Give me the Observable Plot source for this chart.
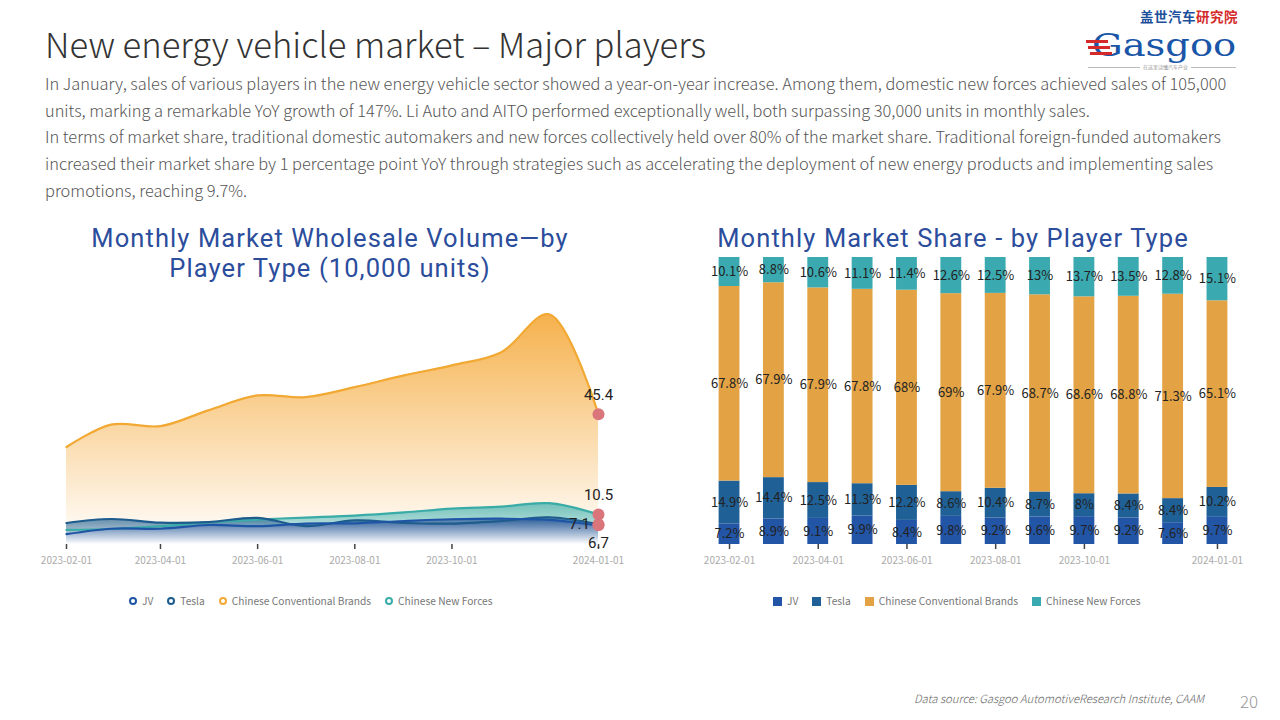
<!DOCTYPE html>
<html><head><meta charset="utf-8">
<script src="https://cdn.jsdelivr.net/npm/d3@7"></script>
<script src="https://cdn.jsdelivr.net/npm/@observablehq/plot@0.6"></script>
<style>
  html,body{margin:0;padding:0;background:#fff;}
  body{width:1280px;height:720px;position:relative;overflow:hidden;font-family:"Noto Sans CJK SC","Noto Sans",sans-serif;}
  .abs{position:absolute;}
  #title{left:45px;top:18px;font-size:34.6px;font-weight:300;color:#333;white-space:nowrap;}
  #para{left:45px;top:70px;font-size:16.4px;font-weight:300;color:#555;line-height:26.7px;white-space:nowrap;}
  .ctitle{color:#2b4d9c;font-family:Roboto,"Noto Sans",sans-serif;font-size:25.5px;text-align:center;line-height:30px;height:30px;white-space:nowrap;letter-spacing:1.1px;}
  .legend{display:flex;align-items:center;font-size:10.2px;color:#777;white-space:nowrap;line-height:14px;}
  .legend .it{display:flex;align-items:center;margin-right:14px;}
  .ring{width:4px;height:4px;border-radius:50%;border:2.3px solid;margin-right:5px;}
  .sq{width:9px;height:9px;margin-right:5px;}
  #src{left:914px;top:690px;font-size:11.3px;font-style:italic;color:#666;font-weight:300;white-space:nowrap;}
  #page{left:1240px;top:688px;font-size:17px;color:#999;font-weight:300;}
</style></head>
<body>
<div id="title" class="abs">New energy vehicle market – Major players</div>
<div id="para" class="abs">In January, sales of various players in the new energy vehicle sector showed a year-on-year increase. Among them, domestic new forces achieved sales of 105,000<br>units, marking a remarkable YoY growth of 147%. Li Auto and AITO performed exceptionally well, both surpassing 30,000 units in monthly sales.<br>In terms of market share, traditional domestic automakers and new forces collectively held over 80% of the market share. Traditional foreign-funded automakers<br>increased their market share by 1 percentage point YoY through strategies such as accelerating the deployment of new energy products and implementing sales<br>promotions, reaching 9.7%.</div>

<!-- logo -->
<div class="abs" style="left:1140px;top:7px;font-size:13.5px;line-height:19px;font-weight:700;letter-spacing:0.5px;"><span style="color:#1c4f9c">盖世汽车</span><span style="color:#d42a2a">研究院</span></div>
<div class="abs" style="left:1092px;top:27px;font-family:'DejaVu Serif',serif;font-size:31px;line-height:36px;color:#1a56a8;transform:scaleX(1.24);transform-origin:left top;">Gasgoo</div>
<div class="abs" style="left:1086px;top:40px;width:22px;height:3px;background:#d42a2a;"></div>
<div class="abs" style="left:1088px;top:46px;width:22px;height:3px;background:#d42a2a;"></div>
<div class="abs" style="left:1090px;top:52px;width:22px;height:3px;background:#d42a2a;"></div>
<div class="abs" style="left:1088px;top:67px;width:148px;height:1px;background:#bbb;"></div>
<div class="abs" style="left:1140px;top:64.1px;font-size:5px;line-height:6px;color:#999;background:#fff;padding:0 3px;">在这里读懂汽车产业</div>

<div class="abs ctitle" style="left:30px;width:600px;top:223px;">Monthly Market Wholesale Volume—by</div>
<div class="abs ctitle" style="left:30px;width:600px;top:253px;">Player Type (10,000 units)</div>
<div class="abs ctitle" style="left:653px;width:600px;top:223px;">Monthly Market Share - by Player Type</div>

<div id="left" class="abs" style="left:0;top:280px;"></div>
<div id="right" class="abs" style="left:680px;top:245px;"></div>

<div class="abs legend" style="left:129px;top:594px;">
  <div class="it"><div class="ring" style="border-color:#1f55a5"></div>JV</div>
  <div class="it"><div class="ring" style="border-color:#1d5c8c"></div>Tesla</div>
  <div class="it"><div class="ring" style="border-color:#f2a933"></div>Chinese Conventional Brands</div>
  <div class="it"><div class="ring" style="border-color:#3aaca8"></div>Chinese New Forces</div>
</div>
<div class="abs legend" style="left:773px;top:594px;">
  <div class="it"><div class="sq" style="background:#2255a5"></div>JV</div>
  <div class="it"><div class="sq" style="background:#1f6096"></div>Tesla</div>
  <div class="it"><div class="sq" style="background:#e3a344"></div>Chinese Conventional Brands</div>
  <div class="it"><div class="sq" style="background:#3aa9b0"></div>Chinese New Forces</div>
</div>

<div id="src" class="abs">Data source: Gasgoo AutomotiveResearch Institute, CAAM</div>
<div id="page" class="abs">20</div>

<script>
// ---------- data ----------
const months = ["2023-02-01","2023-03-01","2023-04-01","2023-05-01","2023-06-01","2023-07-01",
                "2023-08-01","2023-09-01","2023-10-01","2023-11-01","2023-12-01","2024-01-01"];
const tickMonths = ["2023-02-01","2023-04-01","2023-06-01","2023-08-01","2023-10-01","2024-01-01"];
const seriesNames = ["JV","Tesla","Chinese Conventional Brands","Chinese New Forces"];

// wholesale volume (10,000 units)
const volJV    = [3.6, 5.5, 5.5, 6.8, 6.4, 7.3, 7.4, 8.2, 8.8, 9.0, 8.6, 6.7];
const volTesla = [7.5, 8.9, 7.6, 7.8, 9.3, 6.4, 8.4, 7.5, 7.3, 8.2, 9.5, 7.1];
const volConv  = [34.0, 41.8, 41.3, 46.8, 52.0, 51.4, 54.9, 59.0, 62.5, 67.1, 80.3, 45.4];
const volNew   = [5.1, 5.4, 6.4, 7.7, 8.7, 9.4, 10.1, 11.2, 12.5, 13.2, 14.4, 10.5];

// market share (%)
const shareJV    = [7.2, 8.9, 9.1, 9.9, 8.4, 9.8, 9.2, 9.6, 9.7, 9.2, 7.6, 9.7];
const shareTesla = [14.9, 14.4, 12.5, 11.3, 12.2, 8.6, 10.4, 8.7, 8, 8.4, 8.4, 10.2];
const shareConv  = [67.8, 67.9, 67.9, 67.8, 68, 69, 67.9, 68.7, 68.6, 68.8, 71.3, 65.1];
const shareNew   = [10.1, 8.8, 10.6, 11.1, 11.4, 12.6, 12.5, 13, 13.7, 13.5, 12.8, 15.1];

const lineColors = ["#1f55a5", "#1d5c8c", "#f2a933", "#3aaca8"];
const barColors  = ["#2255a5", "#1f6096", "#e3a344", "#3aa9b0"];

// ---------- left chart: volume areas ----------
const volSets = [volJV, volTesla, volConv, volNew];
const volRows = [];
seriesNames.forEach((s, si) => months.forEach((m, i) =>
  volRows.push({series: s, date: new Date(m), value: volSets[si][i]})));
const bySeries = s => volRows.filter(d => d.series === s);
const lastRows = volRows.filter(d => +d.date === +new Date(months[months.length - 1]));
const curve = "catmull-rom";
const lblFont = {fontSize: 15, fill: "#222", fontFamily: "Roboto, sans-serif", text: d => String(d.value)};

const left = Plot.plot({
  width: 640, height: 300,
  marginLeft: 66, marginRight: 42, marginTop: 6, marginBottom: 36,
  style: {fontFamily: "'Noto Sans CJK SC','Noto Sans',sans-serif", background: "transparent"},
  x: {type: "utc", domain: [new Date(months[0]), new Date(months[months.length - 1])], label: null},
  y: {domain: [0, 90], axis: null},
  marks: [
    Plot.areaY(bySeries(seriesNames[2]), {x: "date", y: "value", fill: "url(#gConv)", curve}),
    Plot.lineY(bySeries(seriesNames[2]), {x: "date", y: "value", stroke: lineColors[2], strokeWidth: 2.2, curve}),
    Plot.areaY(bySeries(seriesNames[3]), {x: "date", y: "value", fill: "url(#gNew)", curve}),
    Plot.areaY(bySeries(seriesNames[1]), {x: "date", y: "value", fill: "url(#gTesla)", curve}),
    Plot.areaY(bySeries(seriesNames[0]), {x: "date", y: "value", fill: "url(#gJV)", curve}),
    Plot.lineY(bySeries(seriesNames[3]), {x: "date", y: "value", stroke: lineColors[3], strokeWidth: 2.2, curve}),
    Plot.lineY(bySeries(seriesNames[1]), {x: "date", y: "value", stroke: lineColors[1], strokeWidth: 2.2, curve}),
    Plot.lineY(bySeries(seriesNames[0]), {x: "date", y: "value", stroke: lineColors[0], strokeWidth: 2.2, curve}),
    Plot.axisX({ticks: tickMonths.map(d => new Date(d)), tickFormat: () => "", tickSize: 5, stroke: "#444", strokeWidth: 1.5, label: null}),
    Plot.axisX({ticks: tickMonths.map(d => new Date(d)), tickFormat: d3.utcFormat("%Y-%m-%d"), tickSize: 0, tickPadding: 12, fontSize: 10, fill: "#aaa", label: null}),
    Plot.dot(lastRows, {x: "date", y: "value", r: 6, fill: "#da767b"}),
    Plot.text(lastRows.filter(d => d.series === seriesNames[2] || d.series === seriesNames[3]), {x: "date", y: "value", dy: -19, ...lblFont}),
    Plot.text(lastRows.filter(d => d.series === seriesNames[1]), {x: "date", y: "value", dx: -19, dy: 0, ...lblFont}),
    Plot.text(lastRows.filter(d => d.series === seriesNames[0]), {x: "date", y: "value", dy: 18, ...lblFont})
  ]
});
// gradient definitions
const defs = d3.select(left).insert("defs", ":first-child");
const gStops = [
  ["gJV",    "#1f4f95", 0.7],
  ["gTesla", "#1d5c8c", 0.7],
  ["gConv",  "#f5ad43", 0.95],
  ["gNew",   "#3aaca8", 0.7]
];
gStops.forEach(([id, c, o]) => {
  const g = defs.append("linearGradient").attr("id", id).attr("x1", 0).attr("y1", 0).attr("x2", 0).attr("y2", 1);
  g.append("stop").attr("offset", "0%").attr("stop-color", c).attr("stop-opacity", o);
  g.append("stop").attr("offset", "100%").attr("stop-color", "#ffffff").attr("stop-opacity", 0.95);
});
document.getElementById("left").append(left);

// ---------- right chart: share bars ----------
const shareSets = [shareJV, shareTesla, shareConv, shareNew];
const shareRows = [];
months.forEach((m, i) => seriesNames.forEach((s, si) =>
  shareRows.push({month: m, series: s, value: shareSets[si][i]})));

const right = Plot.plot({
  width: 580, height: 335,
  marginLeft: 26.85, marginRight: 20.85, marginTop: 12, marginBottom: 36,
  style: {fontFamily: "'Noto Sans CJK SC','Noto Sans',sans-serif", background: "transparent"},
  x: {type: "band", domain: months, paddingInner: 0.53, paddingOuter: 0.265, round: false, label: null},
  y: {axis: null},
  color: {domain: seriesNames, range: barColors},
  marks: [
    Plot.barY(shareRows, Plot.stackY({offset: "normalize", x: "month", y: "value", fill: "series", z: "series"})),
    Plot.text(shareRows, Plot.stackY({offset: "normalize", x: "month", y: "value", z: "series",
      text: d => d.value + "%", fontSize: 13, fill: "#222"})),
    Plot.axisX({ticks: tickMonths, tickFormat: () => "", tickSize: 5, stroke: "#444", strokeWidth: 1.5, label: null}),
    Plot.axisX({ticks: tickMonths, tickSize: 0, tickPadding: 12, fontSize: 10, fill: "#aaa", label: null})
  ]
});
document.getElementById("right").append(right);
</script>
</body></html>
